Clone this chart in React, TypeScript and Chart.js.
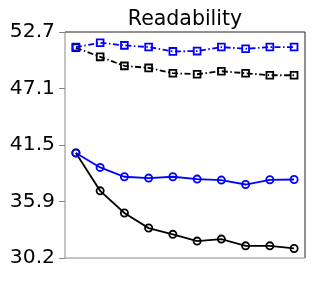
import React, { useEffect, useRef } from "react";
import { Chart, registerables } from "chart.js";

Chart.register(...registerables);

const title = "Readability";
const xSteps = [0, 1, 2, 3, 4, 5, 6, 7, 8, 9];
const blueSquares = [51.22, 51.65, 51.39, 51.22, 50.79, 50.82, 51.22, 51.05, 51.22, 51.22];
const blackSquares = [51.15, 50.25, 49.35, 49.15, 48.62, 48.52, 48.82, 48.62, 48.42, 48.42];
const blueCircles = [40.69, 39.25, 38.32, 38.19, 38.32, 38.09, 37.99, 37.55, 38.02, 38.05];
const blackCircles = [40.69, 36.92, 34.72, 33.22, 32.59, 31.92, 32.12, 31.45, 31.45, 31.19];
const yTickValues = [30.24, 35.86, 41.48, 47.1, 52.72];
const yTickLabels = ["30.2", "35.9", "41.5", "47.1", "52.7"];

const FONT = "'DejaVu Sans', sans-serif";

const framePlugin = {
  id: "frame",
  afterDatasetsDraw(chart: any) {
    const { ctx, chartArea: a } = chart;
    ctx.save();
    ctx.lineWidth = 1;
    ctx.strokeStyle = "#222";
    ctx.beginPath();
    ctx.moveTo(a.left, a.top);
    ctx.lineTo(a.right, a.top);
    ctx.lineTo(a.right, a.bottom);
    ctx.stroke();
    ctx.strokeStyle = "#888";
    ctx.beginPath();
    ctx.moveTo(a.left, a.top);
    ctx.lineTo(a.left, a.bottom);
    ctx.lineTo(a.right, a.bottom);
    ctx.stroke();
    ctx.restore();
  },
};

const toXY = (vals: number[]) => vals.map((v, i) => ({ x: xSteps[i], y: v }));

export default function App() {
  const ref = useRef<HTMLCanvasElement>(null);
  useEffect(() => {
    if (!ref.current) return;
    const dashDot = [6, 2.5, 1.5, 2.5];
    const lw = 1.8;
    const chart = new Chart(ref.current, {
      type: "line",
      data: {
        datasets: [
          {
            data: toXY(blueSquares),
            borderColor: "#0000ff",
            borderWidth: lw,
            borderDash: dashDot,
            pointStyle: "rect",
            pointRadius: 4.8,
            pointBorderWidth: lw,
            pointBackgroundColor: "rgba(0,0,0,0)",
            pointBorderColor: "#0000ff",
          },
          {
            data: toXY(blackSquares),
            borderColor: "#000",
            borderWidth: lw,
            borderDash: dashDot,
            pointStyle: "rect",
            pointRadius: 4.8,
            pointBorderWidth: lw,
            pointBackgroundColor: "rgba(0,0,0,0)",
            pointBorderColor: "#000",
          },
          {
            data: toXY(blueCircles),
            borderColor: "#0000ff",
            borderWidth: lw,
            pointStyle: "circle",
            pointRadius: 3.6,
            pointBorderWidth: lw,
            pointBackgroundColor: "rgba(0,0,0,0)",
            pointBorderColor: "#0000ff",
          },
          {
            data: toXY(blackCircles),
            borderColor: "#000",
            borderWidth: lw,
            pointStyle: "circle",
            pointRadius: 3.6,
            pointBorderWidth: lw,
            pointBackgroundColor: "rgba(0,0,0,0)",
            pointBorderColor: "#000",
          },
        ],
      },
      options: {
        responsive: false,
        animation: false,
        devicePixelRatio: 1,
        layout: { padding: { left: 0, right: 11, top: 0, bottom: 0 } },
        plugins: {
          legend: { display: false },
          tooltip: { enabled: false },
          title: {
            display: true,
            text: title,
            fullSize: false,
            color: "#000",
            font: { family: FONT, size: 20.5, weight: "normal", lineHeight: 1.2 },
            padding: { top: 7.4, bottom: 0 },
          },
        },
        scales: {
          x: {
            type: "linear",
            min: -0.45,
            max: 9.45,
            ticks: { display: false },
            grid: { display: false },
            border: { display: false },
            afterFit: (s: any) => {
              s.height = 23;
            },
          },
          y: {
            type: "linear",
            min: yTickValues[0],
            max: yTickValues[yTickValues.length - 1],
            afterBuildTicks: (s: any) => {
              s.ticks = yTickValues.map((v) => ({ value: v }));
            },
            ticks: {
              color: "#000",
              padding: 4,
              font: { family: FONT, size: 20.3 },
              callback: (v: any) => {
                const i = yTickValues.indexOf(Number(v));
                return i >= 0 ? yTickLabels[i] : "";
              },
            },
            grid: {
              display: true,
              drawOnChartArea: false,
              drawTicks: true,
              tickLength: 6,
              color: "#888",
            },
            border: { display: false },
            afterFit: (s: any) => {
              s.width = 65;
            },
          },
        },
      },
      plugins: [framePlugin],
    });
    return () => chart.destroy();
  }, []);
  return (
    <div style={{ position: "fixed", left: 0, top: 0, width: 316, height: 281, background: "#fff" }}>
      <canvas ref={ref} width={316} height={281} />
    </div>
  );
}
